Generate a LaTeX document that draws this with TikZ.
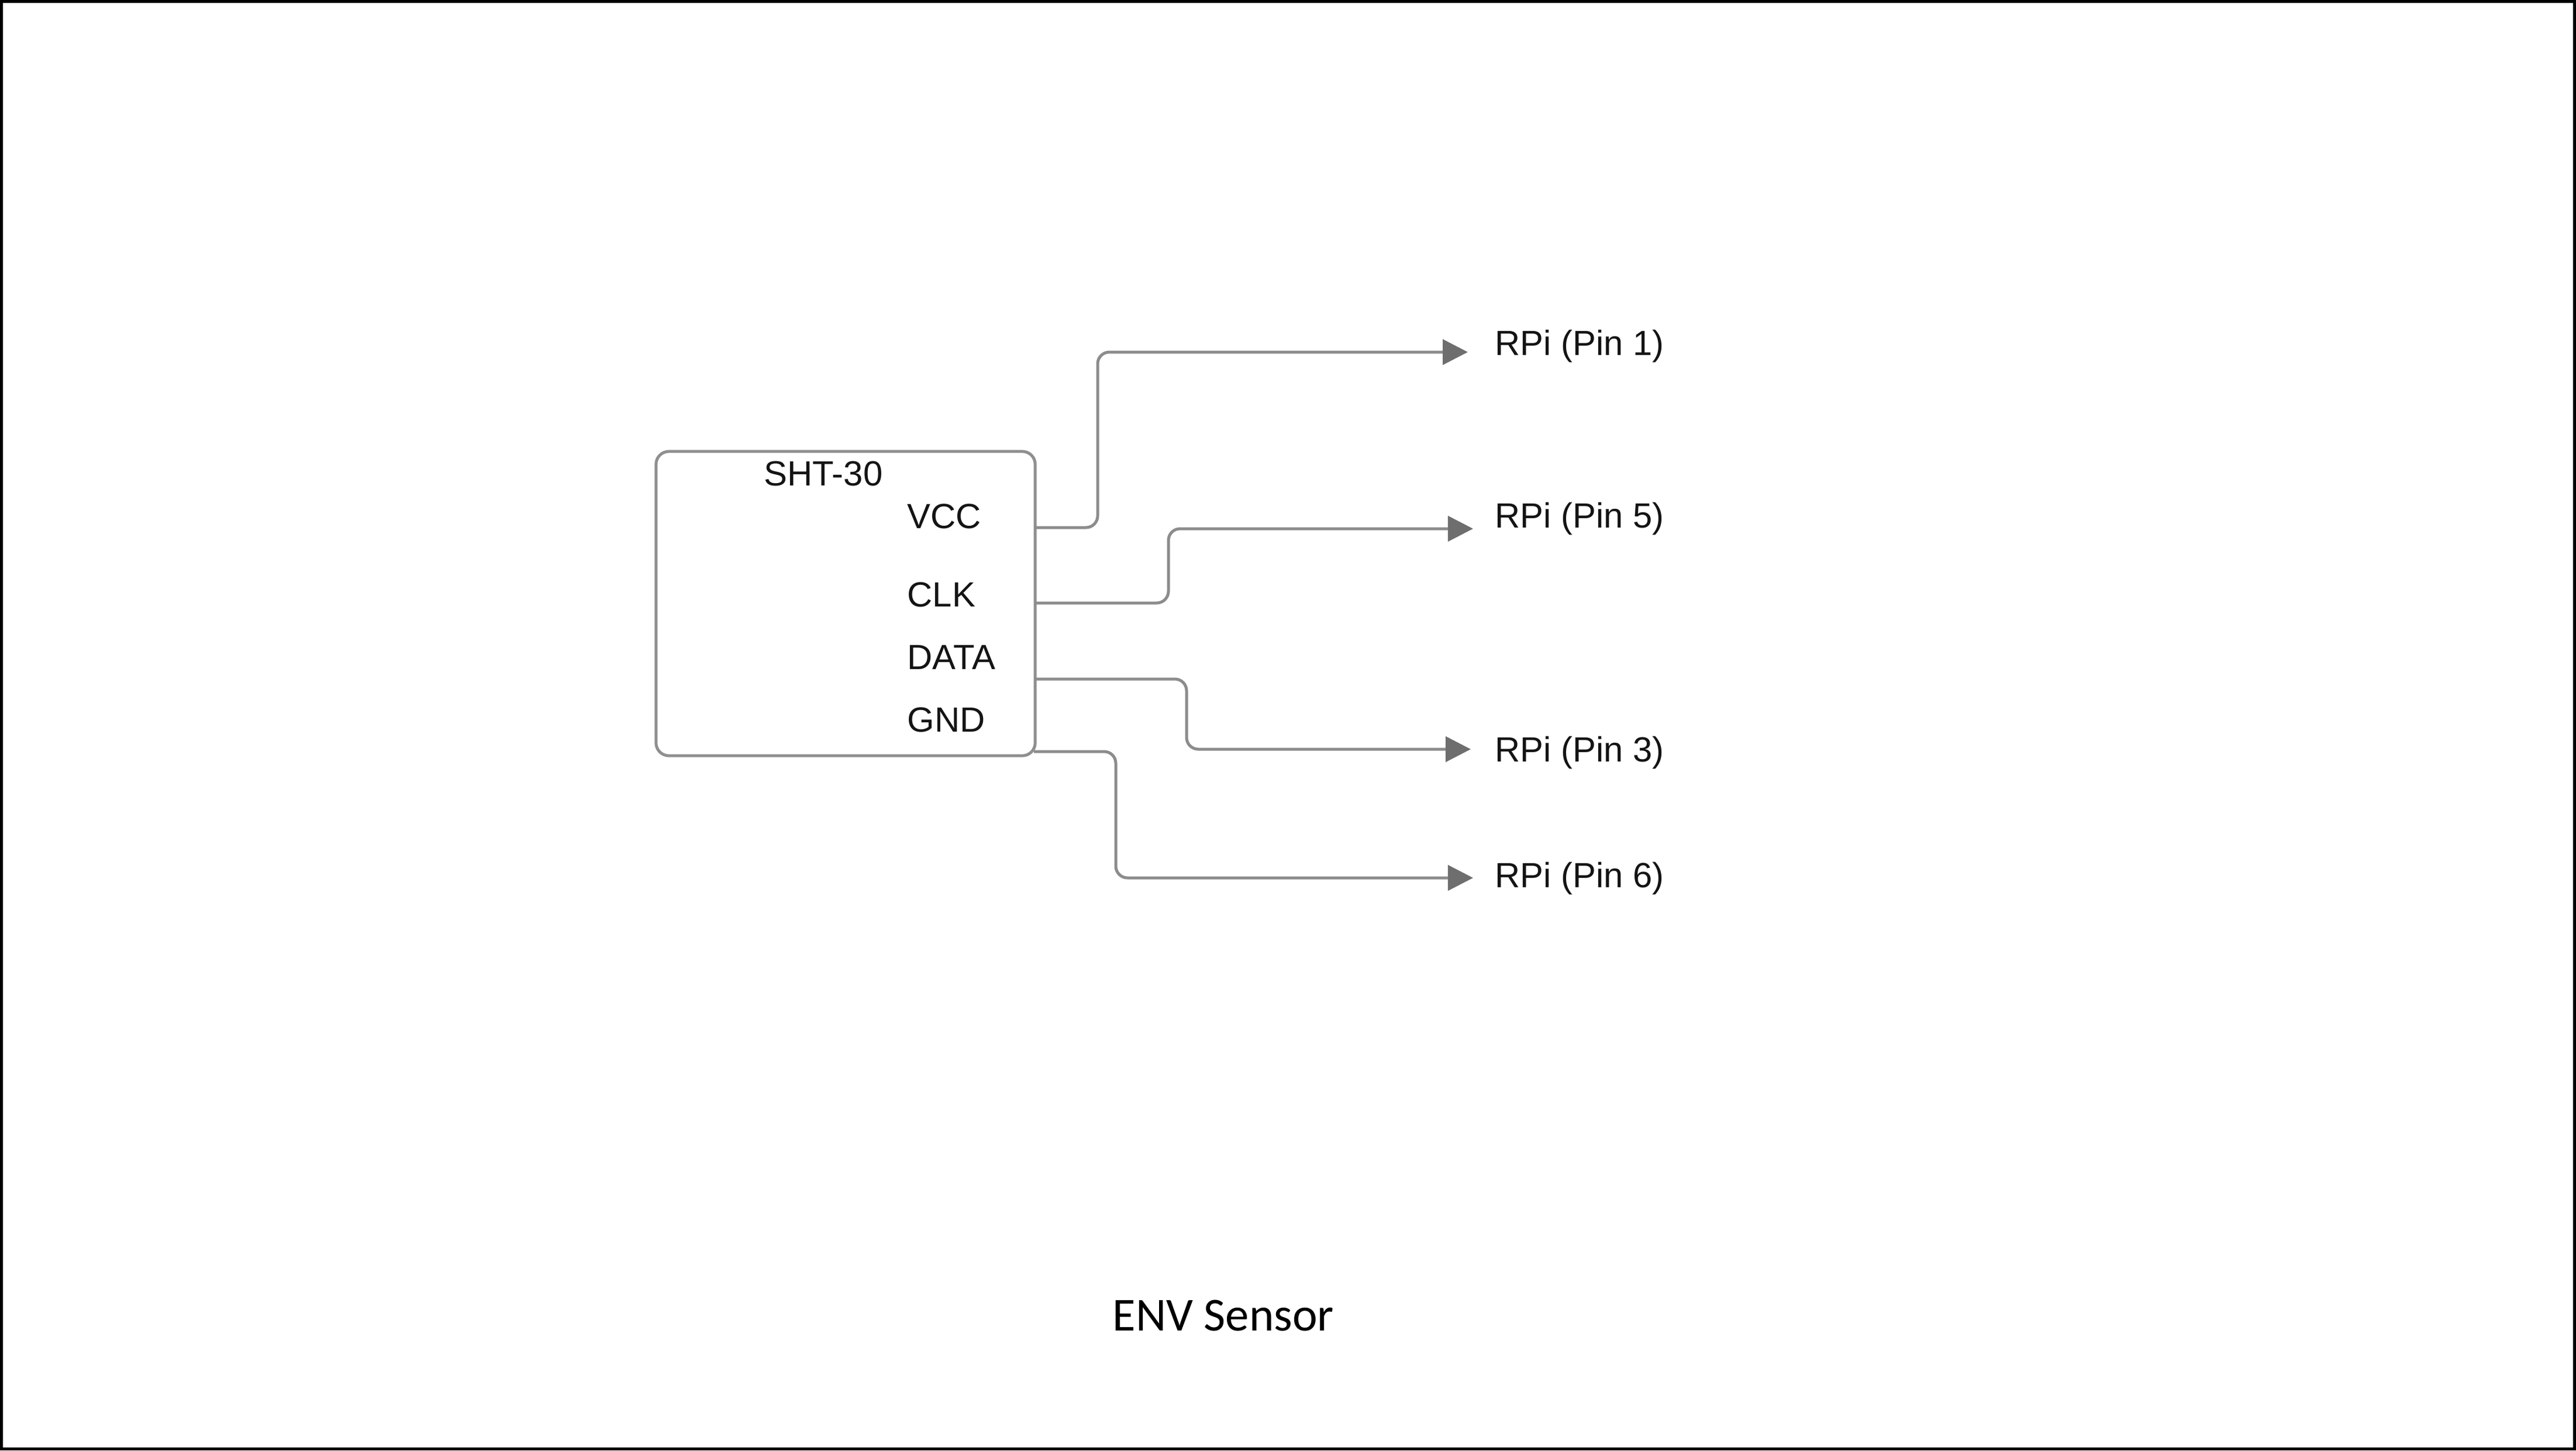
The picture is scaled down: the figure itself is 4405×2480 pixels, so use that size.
\documentclass[tikz,border=0pt]{standalone}
\usepackage{fontspec}
\setmainfont{Liberation Sans}
\newfontfamily\calibrifont{Carlito}
\usetikzlibrary{arrows.meta}
\definecolor{wirec}{HTML}{8C8C8C}
\definecolor{tipc}{HTML}{6E6E6E}
\definecolor{boxc}{HTML}{8F8F8F}
\definecolor{txtc}{HTML}{141414}
\tikzset{
  pinlabel/.style={anchor=base west, inner sep=0pt, text=txtc, font=\fontsize{17pt}{20pt}\selectfont},
  rpilabel/.style={anchor=base west, inner sep=0pt, text=txtc, font=\fontsize{17pt}{20pt}\selectfont},
  chipbox/.style={draw=boxc, line width=0.05cm, rounded corners=0.22cm, minimum width=6.48cm, minimum height=5.20cm, inner sep=0pt},
  wire/.style={draw=wirec, line width=0.05cm, rounded corners=0.2cm, -{Triangle[length=0.43cm, width=0.43cm, color=tipc]}},
}
\begin{document}
\begin{tikzpicture}[x=0.01cm, y=-0.01cm]
\useasboundingbox (0,0) rectangle (4405,2480);
\draw[black, line width=0.05cm] (2.5,2.5) rectangle (4402.5,2477.5);

\node[chipbox] (sht) at (1446,1032) {};
\node[anchor=base, inner sep=0pt, text=txtc, font=\fontsize{17pt}{20pt}\selectfont] (title) at (1408,830) {SHT-30};
\node[pinlabel] (vcc) at (1551,903) {VCC};
\node[pinlabel] (clk) at (1551,1037) {CLK};
\node[pinlabel] (data) at (1551,1144) {DATA};
\node[pinlabel] (gnd) at (1551,1251) {GND};

\node[rpilabel] (rpi1) at (2556,607) {RPi (Pin 1)};
\node[rpilabel] (rpi5) at (2556,902) {RPi (Pin 5)};
\node[rpilabel] (rpi3) at (2556,1302) {RPi (Pin 3)};
\node[rpilabel] (rpi6) at (2556,1517) {RPi (Pin 6)};

\coordinate (pvcc) at (1770,902);
\coordinate (pclk) at (1770,1031);
\coordinate (pdata) at (1770,1161);
\coordinate (pgnd) at (1768,1285);
\coordinate (t1) at (2510,602);
\coordinate (t5) at (2519,904);
\coordinate (t3) at (2515,1281);
\coordinate (t6) at (2519,1501);

\draw[wire] (pvcc) -- (1877,902) -- (1877,602) -- (t1);
\draw[wire] (pclk) -- (1998,1031) -- (1998,904) -- (t5);
\draw[wire] (pdata) -- (2029,1161) -- (2029,1281) -- (t3);
\draw[wire] (pgnd) -- (1908,1285) -- (1908,1501) -- (t6);

\node[anchor=base, inner sep=0pt, text=black, font=\calibrifont\fontsize{23pt}{27pt}\selectfont] (caption) at (2092,2275) {ENV Sensor};
\end{tikzpicture}
\end{document}
